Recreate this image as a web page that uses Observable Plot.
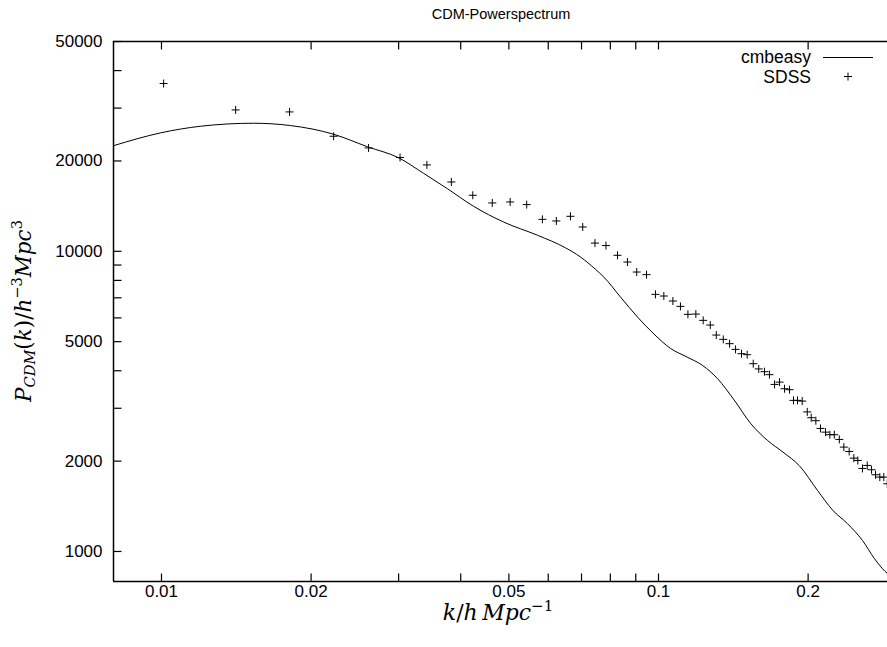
<!DOCTYPE html>
<html>
<head>
<meta charset="utf-8">
<script src="https://cdn.jsdelivr.net/npm/d3@7"></script>
<script src="https://cdn.jsdelivr.net/npm/@observablehq/plot@0.6"></script>
<style>
html, body { margin: 0; padding: 0; background: #fff; overflow: hidden; }
#wrap { position: relative; width: 887px; height: 647px; font-family: "Liberation Sans", Arial, sans-serif; color: #000; }
.title { position: absolute; left: 501px; top: 14px; transform: translate(-50%, -50%); font-size: 14.5px; white-space: nowrap; }
.math { position: absolute; font-family: "DejaVu Serif", "Liberation Serif", serif; font-size: 22px; white-space: nowrap; line-height: 1; }
.math i { font-style: italic; }
.math .sb { font-size: 0.68em; position: relative; top: 0.3em; }
.math .sp { font-size: 0.68em; position: relative; top: -0.6em; }
#ylab { left: 24px; top: 311px; transform: translate(-50%, -50%) rotate(-90deg); font-size: 21.5px; }
#xlab { left: 498px; top: 613px; transform: translate(-50%, -50%); }
</style>
</head>
<body>
<div id="wrap"></div>
<script>
// ---- data ----
const titleText = "CDM-Powerspectrum";
const legendLabels = ["cmbeasy", "SDSS"];

// SDSS measured points (k in h/Mpc, P in (Mpc/h)^3)
const sdssK = [0.0101, 0.0141, 0.0181, 0.0222, 0.0261, 0.0302, 0.0342, 0.0383, 0.0423, 0.0463,
  0.0503, 0.0543, 0.0584, 0.0623, 0.0665, 0.0704, 0.0745, 0.0784, 0.0827, 0.0866,
  0.0904, 0.0946, 0.0986, 0.1025, 0.1069, 0.1107, 0.1146, 0.1189, 0.1230, 0.1271,
  0.1307, 0.1350, 0.1390, 0.1429, 0.1469, 0.1508, 0.1551, 0.1591, 0.1634, 0.1672,
  0.1712, 0.1752, 0.1793, 0.1835, 0.1869, 0.1904, 0.1946, 0.1992, 0.2029, 0.2073,
  0.2118, 0.2168, 0.2212, 0.2258, 0.2311, 0.2360, 0.2419, 0.2472, 0.2518, 0.2573,
  0.2630, 0.2683, 0.2733, 0.2788, 0.2840, 0.2886];
const sdssP = [36220, 29580, 29130, 24170, 22100, 20530, 19400, 17020, 15370, 14490,
  14600, 14310, 12780, 12620, 13080, 12050, 10650, 10450, 9698, 9211,
  8531, 8362, 7188, 7096, 6830, 6556, 6166, 6180, 5888, 5680,
  5260, 5089, 4924, 4713, 4560, 4525, 4222, 4057, 3972, 3882,
  3602, 3666, 3485, 3459, 3187, 3187, 3170, 2917, 2790, 2727,
  2570, 2498, 2449, 2449, 2362, 2227, 2154, 2046, 2010, 1891,
  1935, 1872, 1801, 1769, 1769, 1681];

// cmbeasy model curve
const modelK = [0.00802, 0.00995, 0.01198, 0.01531, 0.01818, 0.02219, 0.02597, 0.02998, 0.03366, 0.03762,
  0.04244, 0.04877, 0.05709, 0.0650, 0.06967, 0.07469, 0.07762, 0.08387, 0.09073, 0.09794,
  0.1057, 0.1142, 0.1226, 0.1315, 0.1419, 0.1534, 0.1657, 0.1780, 0.1922, 0.2089,
  0.2239, 0.2401, 0.2573, 0.2720, 0.2823, 0.2889];
const modelP = [22500, 24800, 26100, 26710, 26240, 24550, 22300, 20500, 18200, 16160,
  14130, 12520, 11310, 10270, 9572, 8710, 8209, 7040, 6039, 5300,
  4749, 4442, 4169, 3763, 3199, 2665, 2344, 2143, 1928, 1597,
  1375, 1237, 1088, 946, 876, 843];

// tick values
const xMajorTicks = [0.01, 0.02, 0.05, 0.1, 0.2];
const xMinorTicks = [0.03, 0.04, 0.06, 0.07, 0.08, 0.09];
const yMajorTicks = [1000, 2000, 5000, 10000, 20000, 50000];
const yMinorTicks = [3000, 4000, 6000, 7000, 8000, 9000, 30000, 40000];

// ---- build ----
const sdss = sdssK.map((k, i) => ({k, P: sdssP[i]}));
const model = modelK.map((k, i) => ({k, P: modelP[i]}));
const xDomain = [0.008007, 0.2889];
const yDomain = [794.3, 50000];

const plusSym = {draw(ctx) { const r = 4; ctx.moveTo(-r, 0); ctx.lineTo(r, 0); ctx.moveTo(0, -r); ctx.lineTo(0, r); }};
const tickUp = {draw(ctx) { ctx.moveTo(0, 0); ctx.lineTo(0, -8); }};
const tickDown = {draw(ctx) { ctx.moveTo(0, 0); ctx.lineTo(0, 8); }};
const tickRight = {draw(ctx) { ctx.moveTo(0, 0); ctx.lineTo(8, 0); }};
const xTicks = xMajorTicks.concat(xMinorTicks);
const yTicks = yMajorTicks.concat(yMinorTicks);

const chart = Plot.plot({
  width: 887,
  height: 647,
  marginLeft: 113,
  marginRight: 0,
  marginTop: 41,
  marginBottom: 66,
  style: {fontFamily: "'Liberation Sans', Arial, sans-serif", fontSize: "17px", color: "#000", background: "#fff", overflow: "hidden"},
  x: {type: "log", domain: xDomain, label: null},
  y: {type: "log", domain: yDomain, label: null},
  marks: [
    Plot.axisX({ticks: xMajorTicks, tickFormat: d => String(d), tickSize: 0, tickPadding: 3, label: null}),
    Plot.axisY({ticks: yMajorTicks, tickFormat: d => String(d), tickSize: 0, tickPadding: 11, label: null}),
    Plot.dot(xTicks, {x: d => d, frameAnchor: "bottom", symbol: tickUp, stroke: "#000", fill: "none", strokeWidth: 1.2}),
    Plot.dot(xTicks, {x: d => d, frameAnchor: "top", symbol: tickDown, stroke: "#000", fill: "none", strokeWidth: 1.2}),
    Plot.dot(yTicks, {y: d => d, frameAnchor: "left", symbol: tickRight, stroke: "#000", fill: "none", strokeWidth: 1.2}),
    Plot.line(model, {x: "k", y: "P", stroke: "#000", strokeWidth: 1, curve: "monotone-x", clip: true}),
    Plot.dot(sdss, {x: "k", y: "P", symbol: plusSym, stroke: "#000", fill: "none", strokeWidth: 1, clip: true}),
    Plot.ruleX([xDomain[0]], {stroke: "#000", strokeWidth: 1.5}),
    Plot.ruleY([yDomain[0], yDomain[1]], {stroke: "#000", strokeWidth: 1.5})
  ]
});

const wrap = document.getElementById("wrap");
wrap.appendChild(chart);

// legend (inside plot, top right)
const svg = d3.select(chart);
const lg = svg.append("g").attr("font-family", "'Liberation Sans', Arial, sans-serif").attr("font-size", 17.5).attr("fill", "#000");
lg.append("text").attr("x", 811).attr("y", 57).attr("dy", "0.35em").attr("text-anchor", "end").text(legendLabels[0]);
lg.append("text").attr("x", 811).attr("y", 77).attr("dy", "0.35em").attr("text-anchor", "end").text(legendLabels[1]);
lg.append("path").attr("d", "M823,57.5H873").attr("stroke", "#000").attr("stroke-width", 1).attr("fill", "none");
lg.append("path").attr("d", "M844,76.5H852M848,72.5V80.5").attr("stroke", "#000").attr("stroke-width", 1).attr("fill", "none");

// title and math axis labels
const t = document.createElement("div");
t.className = "title";
t.textContent = titleText;
wrap.appendChild(t);

const yl = document.createElement("div");
yl.className = "math"; yl.id = "ylab";
yl.innerHTML = '<i>P</i><span class="sb"><i>CDM</i></span>(<i>k</i>)/<i>h</i><span class="sp">\u22123</span><i>Mpc</i><span class="sp">3</span>';
wrap.appendChild(yl);

const xl = document.createElement("div");
xl.className = "math"; xl.id = "xlab";
xl.innerHTML = '<i>k</i>/<i>h</i>\u2009<i>Mpc</i><span class="sp">\u22121</span>';
wrap.appendChild(xl);
</script>
</body>
</html>
